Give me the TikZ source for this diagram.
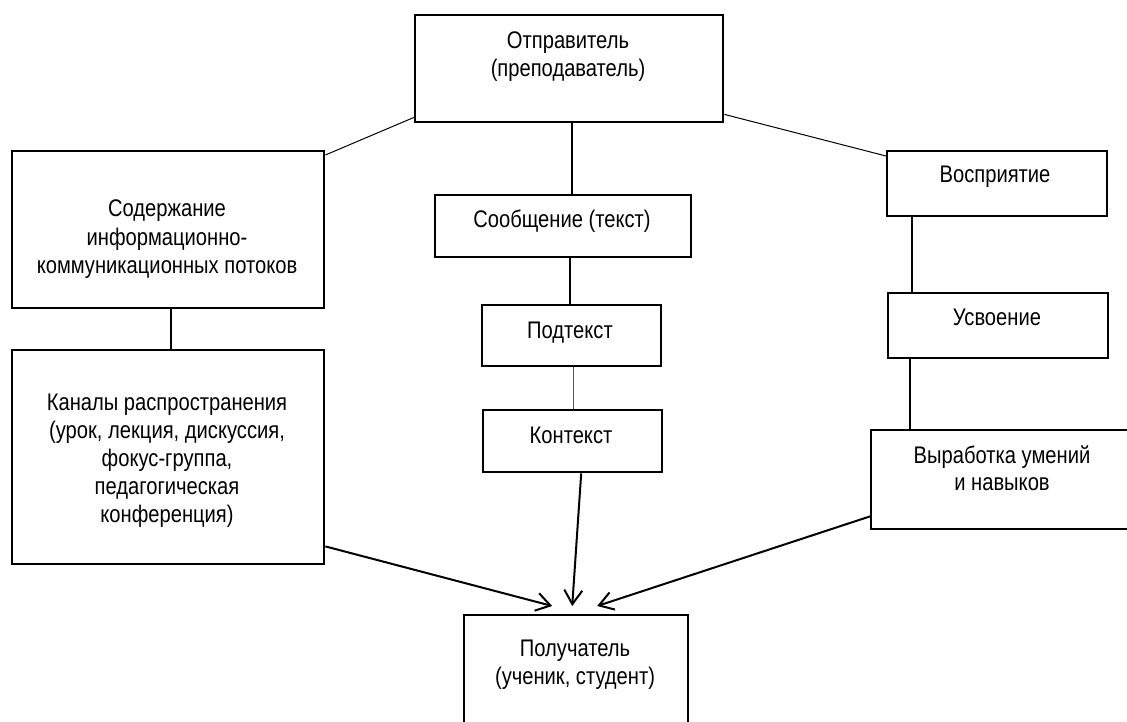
\documentclass[tikz,border=0pt]{standalone}
\usepackage{fontspec}
\setmainfont{Liberation Sans}[FakeStretch=0.84]
\usetikzlibrary{arrows.meta}
\begin{document}
\begin{tikzpicture}[x=1pt,y=-1pt,
  box/.style={draw, line width=2.4pt, inner sep=0pt, anchor=north west},
  txt/.style={anchor=base, inner sep=0pt, font=\fontsize{24}{28}\selectfont},
  link/.style={line width=2pt},
  thin/.style={line width=1pt},
  arr/.style={line width=2pt, -{Straight Barb[length=14pt,width=18pt,line width=2pt]}}]
\useasboundingbox (0,0) rectangle (1127,722);
% boxes
\node[box, minimum width=308pt, minimum height=107pt] (snd) at (414,14) {};
\node[box, minimum width=312pt, minimum height=157pt] (cont) at (11,150) {};
\node[box, minimum width=312pt, minimum height=214pt] (chan) at (11,349) {};
\node[box, minimum width=256pt, minimum height=62pt] (msg) at (434,194) {};
\node[box, minimum width=179pt, minimum height=61pt] (sub) at (481,304) {};
\node[box, minimum width=179pt, minimum height=62pt] (ctx) at (482,409) {};
\node[box, minimum width=220pt, minimum height=65pt] (perc) at (886,150) {};
\node[box, minimum width=220pt, minimum height=65pt] (assim) at (887,292) {};
\node[box, minimum width=280pt, minimum height=99pt] (skill) at (870,429) {};
\node[box, minimum width=224pt, minimum height=140pt] (recv) at (463,614) {};
% texts
\node[txt] (snd1) at (568,49) {Отправитель};
\node[txt] (snd2) at (568,77) {(преподаватель)};
\node[txt] (cont1) at (167,217) {Содержание};
\node[txt] (cont2) at (167,245) {информационно-};
\node[txt] (cont3) at (167,273) {коммуникационных потоков};
\node[txt] (chan1) at (167,410) {Каналы распространения};
\node[txt] (chan2) at (167,438) {(урок, лекция, дискуссия,};
\node[txt] (chan3) at (167,466) {фокус-группа,};
\node[txt] (chan4) at (167,494) {педагогическая};
\node[txt] (chan5) at (167,522) {конференция)};
\node[txt] (msg1) at (562,228) {Сообщение (текст)};
\node[txt] (sub1) at (570,338) {Подтекст};
\node[txt] (ctx1) at (571,443) {Контекст};
\node[txt] (perc1) at (995,183) {Восприятие};
\node[txt] (assim1) at (997,325) {Усвоение};
\node[txt] (skill1) at (1002,463) {Выработка умений};
\node[txt] (skill2) at (1002,490) {и навыков};
\node[txt] (recv1) at (575,656) {Получатель};
\node[txt] (recv2) at (575,684) {(ученик, студент)};
% connectors
\draw[thin] ([yshift=6pt]snd.south west) -- ([yshift=-5pt]cont.north east);
\draw[thin] ([yshift=9pt]snd.south east) -- ([yshift=-6pt]perc.north west);
\draw[link] ([xshift=3pt]snd.south) -- ([xshift=3pt]snd.south |- msg.north);
\draw[link] ([xshift=-1.5pt]sub.north |- msg.south) -- ([xshift=-1.5pt]sub.north);
\draw[thin, gray!70!black] ([xshift=1.5pt]sub.south) -- ([xshift=1.5pt]sub.south |- ctx.north);
\draw[link] ([xshift=3pt]cont.south) -- ([xshift=3pt]cont.south |- chan.north);
\draw[link] ([xshift=26pt]perc.south west) -- ([xshift=26pt]perc.south west |- assim.north);
\draw[link] ([xshift=23pt]assim.south west) -- ([xshift=23pt]assim.south west |- skill.north);
\draw[arr] ([yshift=19pt]chan.south east) -- ([xshift=-24pt,yshift=8pt]recv.north);
\draw[arr] ([xshift=8.5pt]ctx.south) -- ([xshift=-4pt,yshift=8pt]recv.north);
\draw[arr] ([yshift=14pt]skill.south west) -- ([xshift=21pt,yshift=8pt]recv.north);
\end{tikzpicture}
\end{document}
